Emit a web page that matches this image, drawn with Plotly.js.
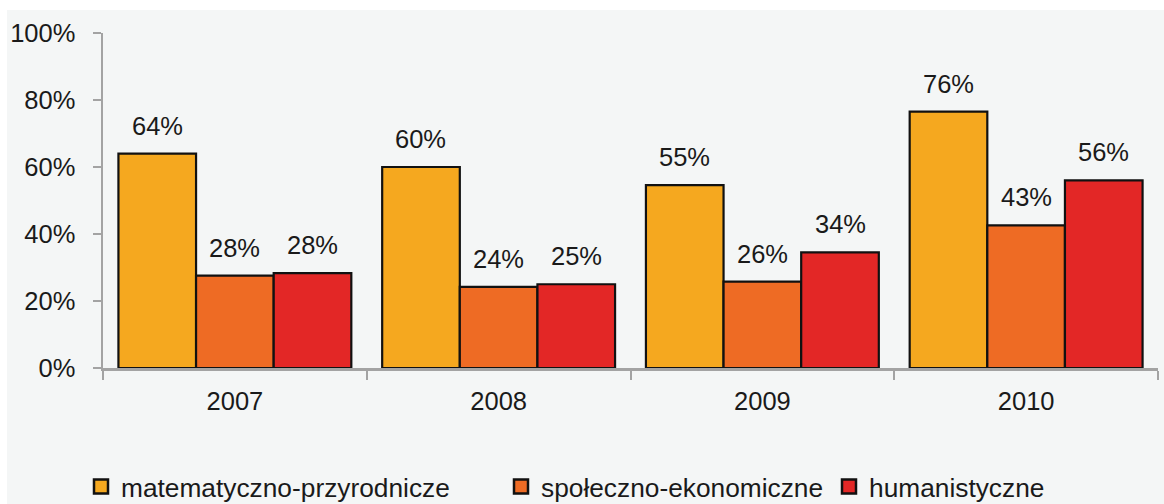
<!DOCTYPE html>
<html><head><meta charset="utf-8">
<script src="https://cdn.plot.ly/plotly-3.0.1.min.js"></script>
<style>html,body{margin:0;padding:0;background:#fff}#chart{width:1164px;height:504px}</style>
</head><body><div id="chart"></div>
<script>
const years = ['2007', '2008', '2009', '2010'];
const seriesNames = ['matematyczno-przyrodnicze', 'społeczno-ekonomiczne', 'humanistyczne'];
const matValues = [64, 60, 54.6, 76.5];
const spoValues = [27.6, 24.2, 25.8, 42.6];
const humValues = [28.3, 25.0, 34.5, 56.0];
const matLabels = ['64%', '60%', '55%', '76%'];
const spoLabels = ['28%', '24%', '26%', '43%'];
const humLabels = ['28%', '25%', '34%', '56%'];
const yTickVals = [0, 20, 40, 60, 80, 100];
const yTickText = ['0%', '20%', '40%', '60%', '80%', '100%'];

const colors = ['#f5a81f', '#ee6b24', '#e32726'];
const W = 1164, H = 504;
const margin = {l: 103, r: 6, t: 33, b: 136, pad: 0, autoexpand: false};
const bargap = 0.117;
const plotW = W - margin.l - margin.r;
const plotH = H - margin.t - margin.b;
const barPx = plotW / years.length * (1 - bargap) / 3;
const font = 'Liberation Sans, Arial, sans-serif';
const txt = '#1a1a1a';
const fs = 25.5;
const legFs = 26.3;

const vals = [matValues, spoValues, humValues];
const labs = [matLabels, spoLabels, humLabels];
const legendIds = ['legend', 'legend2', 'legend3'];

const traces = vals.map((v, i) => ({
  type: 'bar', x: years, y: v, name: seriesNames[i],
  showlegend: false,
  marker: {color: colors[i], line: {color: '#111', width: 2.2}},
  hoverinfo: 'skip'
}));
// legend entries (square swatches with black border)
seriesNames.forEach((n, i) => {
  traces.push({
    type: 'scatter', mode: 'markers', x: [null], y: [null], name: n,
    legend: legendIds[i], showlegend: true, hoverinfo: 'skip',
    marker: {symbol: 'square', size: 14, color: colors[i], line: {color: '#111', width: 2.5}}
  });
});

const annotations = [];
vals.forEach((v, i) => {
  v.forEach((val, j) => {
    annotations.push({
      x: j, y: val, xref: 'x', yref: 'y', text: labs[i][j],
      showarrow: false, yanchor: 'bottom', xanchor: 'center',
      xshift: (i - 1) * barPx, yshift: 12,
      font: {family: font, size: fs, color: txt}
    });
  });
});

const px2x = px => (px - margin.l) / plotW;
const py2y = py => (H - margin.b - py) / plotH;

const legendBase = {orientation: 'h', xanchor: 'left', yanchor: 'middle', y: py2y(487),
  bgcolor: 'rgba(0,0,0,0)', font: {family: font, size: legFs, color: txt}, itemwidth: 30};

const layout = {
  width: W, height: H, margin: margin,
  paper_bgcolor: '#ffffff', plot_bgcolor: 'rgba(0,0,0,0)',
  barmode: 'group', bargap: bargap, bargroupgap: 0,
  font: {family: font, size: fs, color: txt},
  showlegend: true,
  legend: Object.assign({}, legendBase, {x: px2x(81)}),
  legend2: Object.assign({}, legendBase, {x: px2x(501)}),
  legend3: Object.assign({}, legendBase, {x: px2x(829)}),
  xaxis: {
    type: 'category', categoryorder: 'array', categoryarray: years,
    range: [-0.5, years.length - 0.5], autorange: false,
    showline: true, linecolor: '#a3a3a3', linewidth: 2.5,
    ticks: 'outside', tickson: 'boundaries', ticklen: 9, tickwidth: 2, tickcolor: '#a3a3a3',
    showgrid: false, zeroline: false, ticklabelstandoff: 9, tickangle: 0,
    tickfont: {family: font, size: fs, color: txt}, fixedrange: true
  },
  yaxis: {
    range: [0, 100], autorange: false, tickvals: yTickVals, ticktext: yTickText,
    showline: true, linecolor: '#a3a3a3', linewidth: 2.5,
    ticks: 'outside', ticklen: 8, tickwidth: 2, tickcolor: '#a3a3a3',
    showgrid: false, zeroline: false, ticklabelstandoff: 12,
    tickfont: {family: font, size: fs, color: txt}, fixedrange: true
  },
  shapes: [{
    type: 'rect', xref: 'paper', yref: 'paper', layer: 'below',
    x0: px2x(7), x1: px2x(1170), y0: py2y(510), y1: py2y(10),
    fillcolor: '#f4f6f6', line: {width: 0}
  }],
  annotations: annotations
};

Plotly.newPlot('chart', traces, layout, {staticPlot: true, displayModeBar: false});
</script></body></html>
